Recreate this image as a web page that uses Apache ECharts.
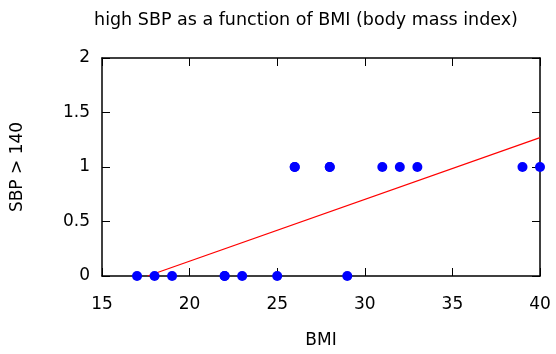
<!DOCTYPE html>
<html>
<head>
<meta charset="utf-8">
<script src="https://cdn.jsdelivr.net/npm/echarts@6/dist/echarts.min.js"></script>
<style>
  html, body { margin: 0; padding: 0; background: #fff; }
  #chart { width: 556px; height: 354px; }
</style>
</head>
<body>
<div id="chart"></div>
<script>
// data
var bmi = [17, 18, 19, 22, 22, 23, 25, 26, 26, 28, 28, 29, 31, 32, 33, 39, 40];
var highSbp = [0, 0, 0, 0, 0, 0, 0, 1, 1, 1, 1, 0, 1, 1, 1, 1, 1];
// fitted line, endpoints as seen in the plot
var fitX = [17.6, 40];
var fitY = [0, 1.27];

var points = bmi.map(function (x, i) { return [x, highSbp[i]]; });
var fitLine = fitX.map(function (x, i) { return [x, fitY[i]]; });

var chart = echarts.init(document.getElementById("chart"));
var font = "DejaVu Sans";
var tick = { show: true, inside: true, length: 8, lineStyle: { color: "#000", width: 1 } };
var axisLine = { show: true, onZero: false, lineStyle: { color: "#000", width: 1.5 } };

chart.setOption({
  animation: false,
  title: {
    text: "high SBP as a function of BMI (body mass index)",
    left: 301,
    textAlign: "center",
    top: 6,
    textStyle: { fontFamily: font, fontSize: 17.5, fontWeight: "normal", color: "#000" }
  },
  grid: { left: 102, right: 16, top: 58, bottom: 77 },
  xAxis: [
    {
      type: "value", min: 15, max: 40, interval: 5,
      name: "BMI", nameLocation: "middle", nameGap: 56,
      nameTextStyle: { fontFamily: font, fontSize: 17, color: "#000" },
      axisLine: axisLine, axisTick: tick,
      axisLabel: { fontFamily: font, fontSize: 17, color: "#000", margin: 20 },
      splitLine: { show: false }
    },
    {
      type: "value", position: "top", min: 15, max: 40, interval: 5,
      axisLine: axisLine, axisTick: tick, axisLabel: { show: false },
      splitLine: { show: false }
    }
  ],
  yAxis: [
    {
      type: "value", min: 0, max: 2, interval: 0.5,
      name: "SBP > 140", nameLocation: "middle", nameGap: 76,
      nameTextStyle: { fontFamily: font, fontSize: 17, color: "#000" },
      axisLine: axisLine, axisTick: tick,
      axisLabel: { fontFamily: font, fontSize: 17, color: "#000", margin: 12 },
      splitLine: { show: false }
    },
    {
      type: "value", position: "right", min: 0, max: 2, interval: 0.5,
      axisLine: axisLine, axisTick: tick, axisLabel: { show: false },
      splitLine: { show: false }
    }
  ],
  series: [
    {
      type: "line",
      data: fitLine,
      showSymbol: false,
      lineStyle: { color: "#ff0000", width: 1.2 },
      z: 2
    },
    {
      type: "scatter",
      data: points,
      symbol: "circle",
      symbolSize: 10,
      itemStyle: { color: "#0000ff", opacity: 1 },
      z: 3
    }
  ]
});
</script>
</body>
</html>
